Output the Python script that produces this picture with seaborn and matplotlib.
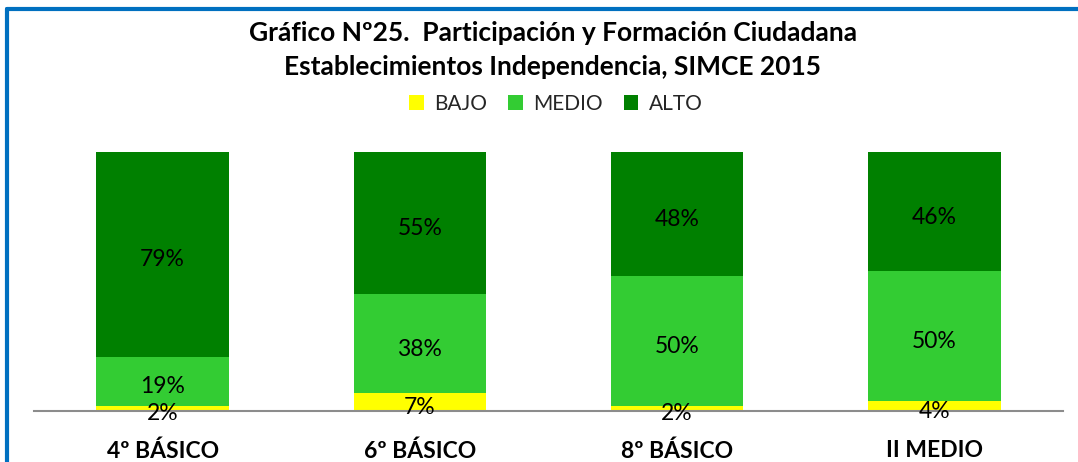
import matplotlib.pyplot as plt
import seaborn as sns
import pandas as pd
import numpy as np
from matplotlib.patches import Patch

categories = ['4º BÁSICO', '6º BÁSICO', '8º BÁSICO', 'II MEDIO']
bajo = [2, 7, 2, 4]
medio = [19, 38, 50, 50]
alto = [79, 55, 48, 46]

levels = ['BAJO', 'MEDIO', 'ALTO']
colors = {'BAJO': '#FFFF00', 'MEDIO': '#33CC33', 'ALTO': '#008000'}

df = pd.DataFrame({'categoria': categories, 'BAJO': bajo, 'MEDIO': medio, 'ALTO': alto})
df_cum = df[levels].cumsum(axis=1)
df_cum['categoria'] = categories

sns.set_style('white')
plt.rcParams['font.family'] = ['Lato', 'DejaVu Sans']

fig = plt.figure(figsize=(10.78, 4.62), dpi=100)
ax = fig.add_axes([34 / 1078, 1 - 411 / 462, (1063 - 34) / 1078, (411 - 152) / 462])

# stacked bars: draw the cumulative totals from the top level down
for lvl in reversed(levels):
    sns.barplot(data=df_cum, x='categoria', y=lvl, color=colors[lvl], width=0.515,
                saturation=1, ax=ax, edgecolor='none', linewidth=0)

# value labels in the middle of each segment
for i, cat in enumerate(categories):
    bottom = 0
    for lvl in levels:
        v = df.loc[i, lvl]
        ax.annotate(f'{v}%', (i, bottom + v / 2), xytext=(0, -4), textcoords='offset points',
                    ha='center', va='center', fontsize=16.5, color='#000000')
        bottom += v

ax.set_xlim(-0.5, 3.5)
ax.set_ylim(0, 100)
ax.set_xlabel('')
ax.set_ylabel('')
ax.set_yticks([])
for s in ['top', 'right', 'left']:
    ax.spines[s].set_visible(False)
ax.spines['bottom'].set_color('#8c8c8c')
ax.spines['bottom'].set_linewidth(1.5)
ax.tick_params(axis='x', length=0, pad=21)
ax.set_xticklabels(categories, fontsize=16.5, fontweight='bold', color='#000000')

fig.text(553 / 1078, 1 - 33 / 462, 'Gráfico Nº25.  Participación y Formación Ciudadana',
         ha='center', va='center', fontsize=19, fontweight='bold', color='#000000')
fig.text(553 / 1078, 1 - 67 / 462, 'Establecimientos Independencia, SIMCE 2015',
         ha='center', va='center', fontsize=19, fontweight='bold', color='#000000')

handles = [Patch(facecolor=colors[l], edgecolor='none', label=l) for l in levels]
fig.legend(handles=handles, loc='center', bbox_to_anchor=(556 / 1078, 1 - 104 / 462), ncol=3,
           frameon=False, fontsize=15, handlelength=0.7, handleheight=0.7,
           handletextpad=0.5, columnspacing=1.0)

# blue chart frame (top and left edges visible)
fig.add_artist(plt.Line2D([6.5 / 1078, 1], [1 - 8.5 / 462, 1 - 8.5 / 462], color='#0070C0',
                          linewidth=3, transform=fig.transFigure))
fig.add_artist(plt.Line2D([6.5 / 1078, 6.5 / 1078], [0, 1 - 8.5 / 462], color='#0070C0',
                          linewidth=3, transform=fig.transFigure))

fig.savefig('out.png', dpi=100)
